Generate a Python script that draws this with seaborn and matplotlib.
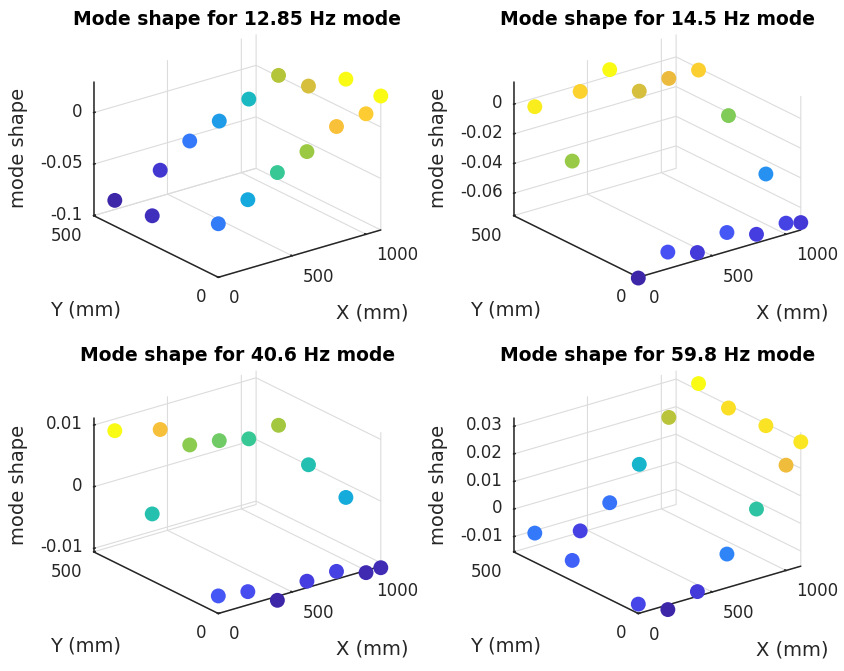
import numpy as np
import matplotlib
matplotlib.use("Agg")
import matplotlib.pyplot as plt
import seaborn as sns
from mpl_toolkits.mplot3d import proj3d

# Accelerometer positions on the plate (mm)
sensor_x = [0, 200, 400, 600, 800, 1000, 1100, 400, 600, 800, 1000, 0, 0, 1100, 1100, 1100]
sensor_y = [0, 0, 0, 0, 0, 0, 0, 470, 470, 470, 470, 265, 415, 140, 290, 410]

# Identified natural frequencies (Hz)
mode_freqs = ["12.85", "14.5", "40.6", "59.8"]

# Mode shape amplitude at each sensor, one list per mode
shape_12_85 = [-0.048, -0.033, -0.015, -0.003, 0.013, 0.017, 0.0301,
               -0.069, -0.049, -0.038, -0.025, -0.072, -0.075,
               0.0297, 0.005, 0.001]
shape_14_5 = [-0.0756, -0.0639, -0.0700, -0.0623, -0.0693, -0.0676, -0.0701,
              -0.0005, 0.0084, -0.0119, -0.0091, -0.0188, 0.0054,
              -0.0490, -0.0221, -0.0014]
shape_40_6 = [-0.0077, -0.0084, -0.0112, -0.0095, -0.0093, -0.0109, -0.0108,
              0.0071, 0.0032, 0.0025, 0.0014, 0.0003, 0.0108,
              -0.0022, 0.0001, 0.0041]
shape_59_8 = [-0.0121, -0.0172, -0.0138, -0.0033, 0.0099, 0.0227, 0.0296,
              -0.0128, -0.0057, 0.0051, 0.0190, -0.0081, -0.0049,
              0.0292, 0.0289, 0.0324]
mode_shapes = [shape_12_85, shape_14_5, shape_40_6, shape_59_8]

# Axis ticks and limits
x_ticks = [0, 500, 1000]
y_ticks = [0, 500]
z_ticks = [[-0.1, -0.05, 0], [-0.06, -0.04, -0.02, 0], [-0.01, 0, 0.01],
           [-0.01, 0, 0.01, 0.02, 0.03]]
z_limits = [(-0.1, 0.0301), (-0.0751, 0.0152), (-0.01055, 0.01118), (-0.0155, 0.0331)]
X_MAX, Y_MAX = 1100, 500

# parula-like colour ramp (evenly spaced anchors)
parula_anchors = [
    (0.2422, 0.1504, 0.6603), (0.2700, 0.2350, 0.8700), (0.2810, 0.3228, 0.9579),
    (0.2250, 0.4300, 0.9800), (0.1786, 0.5289, 0.9682), (0.1150, 0.6150, 0.9050),
    (0.0689, 0.6948, 0.8394), (0.1200, 0.7450, 0.7200), (0.2161, 0.7843, 0.5923),
    (0.5200, 0.8000, 0.3300), (0.6720, 0.7793, 0.2227), (0.9200, 0.7300, 0.2400),
    (0.9970, 0.7659, 0.2199), (0.9800, 0.8750, 0.1500), (0.9769, 0.9839, 0.0805),
]

# ---- layout (pixels) ----
FIG_W, FIG_H = 845, 671
panel_origin_px = [(218.3, 277.3), (638.3, 277.3), (218.3, 613.5), (638.3, 613.5)]
X_AXIS_LEN_PX = 162.5
DARK = (0.15, 0.15, 0.15)
GRID = "#dcdcdc"

sns.set_theme(style="white")
plt.rcParams.update({
    "font.family": ["DejaVu Sans"],
    "grid.color": GRID,
    "grid.linewidth": 0.8,
    "grid.linestyle": "-",
})

cmap = sns.blend_palette(parula_anchors, n_colors=256, as_cmap=True)

fig = plt.figure(figsize=(FIG_W / 100, FIG_H / 100), dpi=100)


def to_display(ax, xs, ys, zs):
    xs, ys, zs = (np.atleast_1d(np.asarray(v, dtype=float)) for v in (xs, ys, zs))
    px, py, _ = proj3d.proj_transform(xs, ys, zs, ax.get_proj())
    return ax.transData.transform(np.column_stack([px, py]))


panels = []
for i, (shape, freq) in enumerate(zip(mode_shapes, mode_freqs)):
    ox, oy = panel_origin_px[i]
    side = 300
    ax = fig.add_axes([(ox - 150) / FIG_W, (FIG_H - oy - 50) / FIG_H,
                       side / FIG_W, side / FIG_H], projection="3d")
    z = np.asarray(shape, dtype=float)
    zlo, zhi = z_limits[i]
    ax.scatter(sensor_x, sensor_y, z, c=z, cmap=cmap, vmin=z.min(), vmax=z.max(),
               s=115, depthshade=False, edgecolors="none", alpha=1.0)
    ax.set_proj_type("ortho")
    ax.view_init(elev=22.3, azim=-127.5)
    ax.set_box_aspect((1, 1, 0.707))
    ax.set_xlim(0, X_MAX)
    ax.set_ylim(0, Y_MAX)
    ax.set_zlim(zlo, zhi)
    ax.set_xticks(x_ticks)
    ax.set_yticks(y_ticks)
    ax.set_zticks(z_ticks[i])
    ax.set_xticklabels([])
    ax.set_yticklabels([])
    ax.set_zticklabels([])
    ax.set_facecolor((1, 1, 1, 0))
    for axis in (ax.xaxis, ax.yaxis, ax.zaxis):
        axis.set_pane_color((1, 1, 1, 0))
        axis.pane.set_edgecolor("none")
        axis.line.set_color(DARK)
        axis.line.set_linewidth(1.1)
        axis._axinfo["tick"]["inward_factor"] = 0.0
        axis._axinfo["tick"]["outward_factor"] = 0.12
    ax.zaxis.pane.set_edgecolor(GRID)
    ax.tick_params(colors=DARK, width=0.8)
    panels.append((ax, zlo, freq))

# scale and place each 3D box
fig.canvas.draw()
for i, (ax, zlo, freq) in enumerate(panels):
    pos = ax.get_position()
    x0, y0 = pos.x0 * FIG_W, pos.y0 * FIG_H
    size = pos.width * FIG_W
    o, xe = to_display(ax, [0, X_MAX], [0, 0], [zlo, zlo])
    r = X_AXIS_LEN_PX / (xe[0] - o[0])
    u = (o - np.array([x0, y0])) / size
    new = size * r
    tx, ty = panel_origin_px[i]
    nx0 = tx - new * u[0]
    ny0 = (FIG_H - ty) - new * u[1]
    ax.set_position([nx0 / FIG_W, ny0 / FIG_H, new / FIG_W, new / FIG_H])

fig.canvas.draw()

TICK_FS = 12
LABEL_FS = 14
for i, (ax, zlo, freq) in enumerate(panels):
    o = to_display(ax, [0], [0], [zlo])[0]
    for v, p in zip(x_ticks, to_display(ax, x_ticks, [0] * len(x_ticks), [zlo] * len(x_ticks))):
        fig.text((p[0] + 10.5) / FIG_W, (p[1] - 21) / FIG_H, f"{v:g}",
                 ha="left", va="center", fontsize=TICK_FS, color=DARK)
    for v, p in zip(y_ticks, to_display(ax, [0] * len(y_ticks), y_ticks, [zlo] * len(y_ticks))):
        fig.text((p[0] - 11.5) / FIG_W, (p[1] - 20) / FIG_H, f"{v:g}",
                 ha="right", va="center", fontsize=TICK_FS, color=DARK)
    zt = z_ticks[i]
    for v, p in zip(zt, to_display(ax, [0] * len(zt), [Y_MAX] * len(zt), zt)):
        fig.text((p[0] - 11) / FIG_W, (p[1] + 1) / FIG_H, f"{v:g}",
                 ha="right", va="center", fontsize=TICK_FS, color=DARK)
    fig.text((o[0] - 133) / FIG_W, (o[1] - 33) / FIG_H, "Y (mm)",
             ha="center", va="center", fontsize=LABEL_FS, color=DARK)
    fig.text((o[0] + 154) / FIG_W, (o[1] - 36) / FIG_H, "X (mm)",
             ha="center", va="center", fontsize=LABEL_FS, color=DARK)
    fig.text((o[0] - 200) / FIG_W, (o[1] + 129) / FIG_H, "mode shape",
             ha="center", va="center", rotation=90, fontsize=LABEL_FS, color=DARK)
    fig.text((o[0] + 19) / FIG_W, (o[1] + 258) / FIG_H,
             f"Mode shape for {freq} Hz mode",
             ha="center", va="center", fontsize=13.5, fontweight="bold", color="black")

fig.savefig("out.png", dpi=100)
